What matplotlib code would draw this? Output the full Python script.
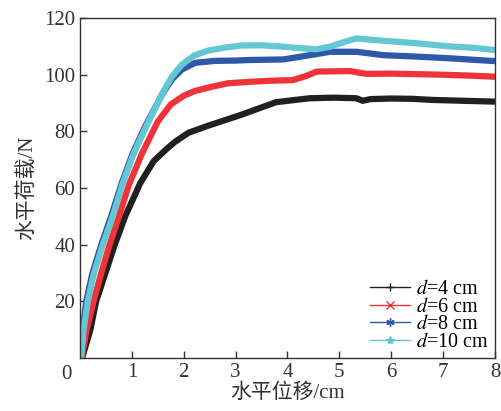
import matplotlib
matplotlib.use("Agg")
import matplotlib.pyplot as plt
from matplotlib.lines import Line2D

plt.rcParams['font.family'] = ['Liberation Serif', 'Noto Sans CJK SC']
plt.rcParams['mathtext.fontset'] = 'stix'

# ----- data -----
x_d4 = [0.04, 0.2, 0.31, 0.49, 0.67, 0.87, 1.02, 1.16, 1.42, 1.67, 1.83, 2.09, 2.47, 2.8,
        3.1, 3.4, 3.78, 4.1, 4.43, 4.9, 5.33, 5.45, 5.6, 6.0, 6.4, 6.8, 7.2, 7.6, 8.0]
y_d4 = [0, 10, 20, 30, 40, 50, 56, 61.7, 69.5, 73.8, 76.3, 79.5, 82, 84,
        85.8, 87.8, 90.3, 91.0, 91.7, 91.9, 91.7, 90.8, 91.4, 91.6, 91.5, 91.1, 90.9, 90.7, 90.5]

x_d6 = [0.03, 0.13, 0.26, 0.41, 0.57, 0.75, 0.94, 1.19, 1.5, 1.75, 2.0, 2.22, 2.55,
        2.86, 3.27, 3.7, 4.1, 4.35, 4.56, 5.2, 5.52, 6.0, 6.5, 7.0, 7.5, 8.0]
y_d6 = [0, 10, 20, 30, 40, 50, 61, 72, 83.5, 89.5, 92.6, 94.3, 95.8,
        97.0, 97.5, 97.9, 98.1, 99.5, 101.1, 101.3, 100.3, 100.4, 100.2, 100.0, 99.7, 99.3]

x_d8 = [0.01, 0.05, 0.12, 0.24, 0.41, 0.6, 0.8, 1.01, 1.25, 1.58, 1.78, 1.96, 2.22, 2.6,
        3.0, 3.27, 3.92, 4.43, 4.82, 5.33, 5.85, 6.49, 7.13, 8.0]
y_d8 = [0, 10, 20, 30, 40, 50, 61.5, 72, 81.5, 93, 98.5, 101.8, 104.2, 104.9,
        105.0, 105.2, 105.4, 106.9, 108.1, 108.1, 106.9, 106.4, 105.8, 104.8]

x_d10 = [0.02, 0.07, 0.15, 0.27, 0.44, 0.63, 0.82, 1.03, 1.27, 1.6, 1.78, 1.96, 2.2, 2.47,
         2.8, 3.1, 3.5, 3.92, 4.3, 4.56, 4.82, 5.1, 5.33, 5.85, 6.49, 7.13, 7.6, 8.0]
y_d10 = [0, 10, 20, 30, 40, 50, 61.5, 72, 81.5, 93.8, 99.5, 103.5, 106.8, 108.5,
         109.6, 110.3, 110.4, 109.9, 109.3, 109.0, 109.9, 111.6, 112.8, 112.0, 111.1, 110.0, 109.5, 108.7]

labels = ['$d$=4 cm', '$d$=6 cm', '$d$=8 cm', '$d$=10 cm']
colors = ['#231f20', '#ee3438', '#2f58a8', '#64c7d4']
markers = ['+', 'x', (6, 2, 0), '*']

fig = plt.figure(figsize=(5.01, 4.11), dpi=100)
ax = fig.add_axes([0.1597, 0.129, 0.8283, 0.827])

series = [(x_d4, y_d4), (x_d6, y_d6), (x_d8, y_d8), (x_d10, y_d10)]
for (xs, ys), c in zip(series, colors):
    ax.plot(xs, ys, color=c, lw=4.5, solid_capstyle='butt', solid_joinstyle='round')

ax.set_xlim(0, 8)
ax.set_ylim(0, 120)
ax.set_xticks(range(1, 9))
ax.set_yticks(range(20, 121, 20))
ax.tick_params(direction='in', length=5, width=1, labelsize=15, colors='#333333',
               top=False, right=False)
for s in ax.spines.values():
    s.set_linewidth(1)
    s.set_color('#333333')

ax.annotate('0', xy=(0, 0), xycoords='data', xytext=(-14, -17),
            textcoords='offset pixels', ha='center', va='center', fontsize=15, color='#333333')

ax.set_xlabel('水平位移/cm', fontsize=15, color='#333333', labelpad=1)
ax.set_ylabel('水平荷载/N', fontsize=15, color='#333333', labelpad=5)

handles = [Line2D([], [], color=c, lw=1, marker=m, markersize=6, markeredgewidth=1)
           for c, m in zip(colors, markers)]
ax.legend(handles, labels, loc='lower right', frameon=False, fontsize=14.5,
          handlelength=2.0, handletextpad=0.3, labelspacing=-0.08, borderaxespad=0.1,
          borderpad=0.2, numpoints=1)

fig.savefig('out.png', dpi=100)
